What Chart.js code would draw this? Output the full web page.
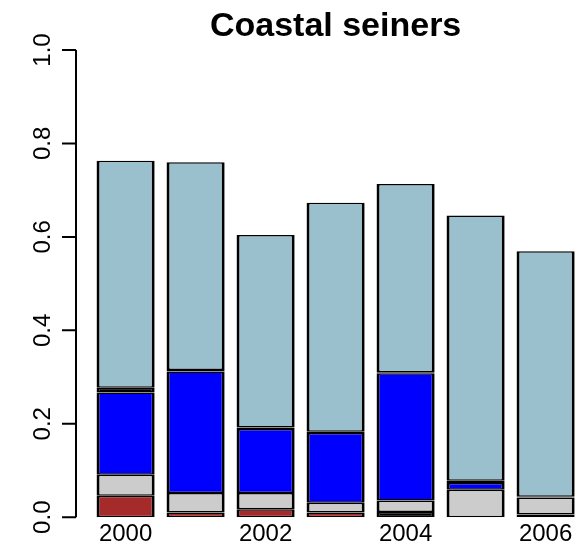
<!DOCTYPE html>
<html>
<head>
<meta charset="utf-8">
<script src="https://cdn.jsdelivr.net/npm/chart.js@4.4.0/dist/chart.umd.min.js"></script>
<style>
  html, body { margin: 0; padding: 0; background: #fff; }
  #wrap { width: 585px; height: 552px; }
</style>
</head>
<body>
<div id="wrap"><canvas id="seiners"></canvas></div>
<script>
const years = ["2000", "2001", "2002", "2003", "2004", "2005", "2006"];
const shownYears = ["2000", "", "2002", "", "2004", "", "2006"];

// share per year, bottom of the stack first
const brownPart     = [0.046, 0.010, 0.017, 0.010, 0,     0,     0];
const blackLowPart  = [0,     0,     0,     0,     0.011, 0,     0.006];
const greyPart      = [0.045, 0.042, 0.035, 0.021, 0.025, 0.059, 0.036];
const bluePart      = [0.176, 0.260, 0.137, 0.149, 0.272, 0.014, 0];
const blackHighPart = [0.010, 0.003, 0.003, 0.003, 0.002, 0.005, 0.002];
const lightBluePart = [0.486, 0.445, 0.412, 0.490, 0.403, 0.568, 0.525];

Chart.defaults.font.family = '"Liberation Sans", Arial, sans-serif';
Chart.defaults.color = "#000";

function seg(label, data, colour) {
    return {
        label: label,
        data: data,
        backgroundColor: colour,
        borderColor: "#000",
        borderWidth: {left: 3, right: 3, top: 1.5, bottom: 1.5},
        borderSkipped: false,
        inflateAmount: 0,
        barPercentage: 0.83,
        categoryPercentage: 1
    };
}

// R style y axis: line and ticks left of the bars, labels turned up
const leftAxis = {
    id: "leftAxis",
    afterDraw(chart) {
        const {ctx} = chart;
        const y = chart.scales.y;
        const x0 = 76;
        ctx.save();
        ctx.strokeStyle = "#000";
        ctx.lineWidth = 2;
        ctx.beginPath();
        ctx.moveTo(x0, y.getPixelForValue(y.min));
        ctx.lineTo(x0, y.getPixelForValue(y.max));
        y.ticks.forEach(t => {
            const py = y.getPixelForValue(t.value);
            ctx.moveTo(x0 - 14, py);
            ctx.lineTo(x0, py);
        });
        ctx.stroke();
        ctx.fillStyle = "#000";
        ctx.font = '24px "Liberation Sans", Arial, sans-serif';
        ctx.textAlign = "center";
        ctx.textBaseline = "alphabetic";
        y.ticks.forEach(t => {
            const py = y.getPixelForValue(t.value);
            ctx.save();
            ctx.translate(50, py);
            ctx.rotate(-Math.PI / 2);
            ctx.fillText(t.value.toFixed(1), 0, 0);
            ctx.restore();
        });
        ctx.restore();
    }
};

new Chart("seiners", {
    type: "bar",
    data: {
        labels: years,
        datasets: [
            seg("brown", brownPart, "#A52A2A"),
            seg("black (low)", blackLowPart, "#000000"),
            seg("grey", greyPart, "#CCCCCC"),
            seg("blue", bluePart, "#0000FF"),
            seg("black (high)", blackHighPart, "#000000"),
            seg("light blue", lightBluePart, "#9AC0CD")
        ]
    },
    options: {
        responsive: true,
        maintainAspectRatio: false,
        animation: false,
        layout: {
            padding: {left: 90.6, right: 4.4, top: 0, bottom: 0}
        },
        plugins: {
            legend: {display: false},
            tooltip: {enabled: false},
            title: {
                display: true,
                text: "Coastal seiners",
                fullSize: false,
                font: {size: 34, weight: "bold", lineHeight: 1},
                padding: {top: 10, bottom: 6},
                color: "#000"
            }
        },
        scales: {
            x: {
                stacked: true,
                grid: {display: false, drawTicks: false},
                border: {display: false},
                ticks: {
                    font: {size: 24},
                    color: "#000",
                    padding: 3,
                    maxRotation: 0,
                    autoSkip: false,
                    callback: (v, i) => shownYears[i]
                }
            },
            y: {
                stacked: true,
                display: false,
                min: 0,
                max: 1,
                ticks: {stepSize: 0.2}
            }
        }
    },
    plugins: [leftAxis]
});
</script>
</body>
</html>
